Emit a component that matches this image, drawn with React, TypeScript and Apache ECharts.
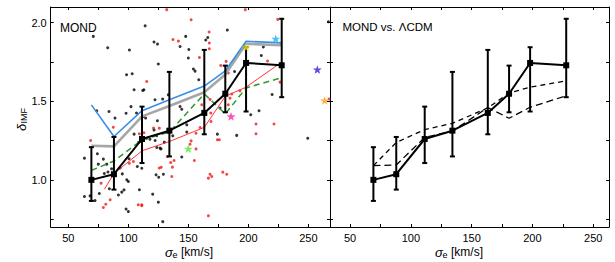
import React, { useEffect, useRef } from "react";
import * as echarts from "echarts";

// ---------- data ----------
const binX = [69.2, 88, 111.4, 134.2, 163.3, 180.8, 198.1, 227.8];
const binY = [1.0, 1.036, 1.26, 1.313, 1.426, 1.548, 1.744, 1.729];
const errLo = [0.866, 0.938, 1.107, 1.149, 1.29, 1.43, 1.435, 1.526];
const errHi = [1.208, 1.273, 1.466, 1.687, 1.827, 1.727, 1.844, 2.025];

const blueY = [1.477, 1.276, 1.44, 1.51, 1.597, 1.693, 1.882, 1.872];
const grayY = [1.217, 1.213, 1.404, 1.47, 1.557, 1.67, 1.866, 1.857];
const greenY = [1.06, 1.12, 1.255, 1.304, 1.547, 1.42, 1.585, 1.65];
const redLineX = [80, 88, 111.4, 134.2, 163.3, 180.8, 198.1, 227.8];
const redLineY = [0.94, 1.04, 1.185, 1.244, 1.334, 1.532, 1.59, 1.749];

const lcdmAY = [1.09, 1.095, 1.27, 1.31, 1.46, 1.392, 1.462, 1.535];
const lcdmBY = [1.09, 1.238, 1.32, 1.36, 1.458, 1.552, 1.59, 1.63];

const blackDots = [
  [70.8, 1.913], [82.8, 1.841], [100.9, 1.826], [98.5, 1.669], [103.2, 1.675], [104.8, 1.573],
  [112, 1.569], [114, 1.98], [73.7, 1.44], [83.9, 1.435], [88.9, 1.393], [98.1, 1.424],
  [102.2, 1.466], [106.8, 1.425], [121.4, 1.877], [124.3, 1.864], [147.8, 1.913], [143.1, 1.849],
  [150.4, 1.83], [150, 1.775], [166.2, 1.906], [164.5, 1.89], [182.5, 1.953], [125, 1.737],
  [154.2, 1.705], [155.6, 1.692], [158.7, 1.637], [113, 1.573], [133.3, 1.541], [128.6, 1.514],
  [122.2, 1.51], [143.1, 1.467], [144.5, 1.449], [176.4, 1.457], [112.5, 1.403], [114.4, 1.393],
  [212.5, 1.845], [210.8, 1.791], [188.5, 1.69], [219.8, 1.543], [202, 1.414], [208.9, 1.44],
  [266.7, 2.006], [190.3, 1.283], [249.5, 1.265], [124.2, 1.376], [121.4, 1.318], [115.3, 1.265],
  [122.3, 1.25], [126.4, 1.202], [123.7, 1.206], [148.7, 1.35], [148.7, 1.304], [144.5, 1.145],
  [174.2, 1.291], [123.1, 1.032], [125.3, 1.017], [129.2, 1.036], [120.3, 0.909], [125, 0.858],
  [128.7, 0.734], [63.4, 1.138], [74.2, 1.166], [79.2, 1.132], [93.1, 1.075], [95, 1.038],
  [98.7, 1.0], [100, 0.99], [96.4, 0.936], [94.5, 0.922], [100.6, 1.134], [107.5, 1.085],
  [111.2, 1.074], [109.8, 1.244], [63.4, 0.894], [68.1, 0.898], [72.2, 0.868], [75.8, 0.913],
  [84.2, 0.943], [91.7, 0.904], [98.1, 0.815], [100, 0.798], [104.8, 1.291], [108.4, 1.238],
  [118, 1.258], [123.6, 1.28], [127.2, 1.197], [109.2, 0.937], [82, 1.1], [86, 1.07],
  [137, 1.28], [130, 1.24], [75, 1.1], [80, 1.04], [83, 1.05],
];

const redDots = [
  [132, 2.083], [152.3, 2.019], [197.5, 2.083], [224.5, 2.021], [167.3, 1.941], [137.2, 1.893],
  [141.7, 1.883], [167.5, 1.871], [167.5, 1.834], [159.2, 1.779], [177, 1.728], [181.5, 1.754],
  [183.3, 1.68], [216, 1.756], [226.4, 1.622], [115.3, 1.626], [161.2, 1.478], [168.1, 1.512],
  [183.3, 1.478], [168.7, 1.425], [184.7, 1.52], [193, 1.567], [186.2, 1.546], [206.4, 1.355],
  [221.4, 1.355], [206.4, 1.293], [125.8, 1.329], [152.3, 1.248], [151.4, 1.227], [156.4, 1.197],
  [155, 1.123], [159.8, 1.333], [156.4, 1.297], [168.9, 1.371], [174.2, 1.255], [175.8, 1.255],
  [132.5, 1.148], [135.3, 1.11], [138.1, 1.123], [136.7, 1.081], [125.8, 1.075], [127.4, 1.08],
  [136.2, 1.021], [168.1, 1.036], [169.5, 1.021], [166.7, 1.011], [178.7, 1.049], [182, 1.036],
  [111.2, 0.836], [166.7, 0.771], [68.6, 1.25], [87.5, 1.335], [77.3, 0.979], [84.8, 0.873],
  [81.2, 0.845], [79.2, 0.824], [108.3, 0.841], [111.2, 0.841], [100.8, 1.106], [104.2, 1.117],
  [109.2, 1.293], [113, 1.3], [121, 1.33], [267.3, 1.515],
];

const starX = [198.1, 222.8, 257.5, 263.6, 185.6, 150];
const starY = [1.844, 1.898, 1.702, 1.505, 1.404, 1.198];
const starColors = ["#f7e01a", "#1bb0ee", "#3a1fd6", "#ff9c12", "#ff28a6", "#4fea2c"];

const xTicks = [50, 75, 100, 125, 150, 175, 200, 225, 250];
const xLabels = [50, 100, 150, 200, 250];
const yTicks = [0.75, 1.0, 1.25, 1.5, 1.75, 2.0];
const yLabels = [1.0, 1.5, 2.0];

// ---------- chart ----------
const FONT = "'Liberation Sans', Arial, Helvetica, sans-serif";
const STAR =
  "path://M0,-10 L2.35,-3.24 L9.51,-3.09 L3.8,1.24 L5.88,8.09 L0,4 L-5.88,8.09 L-3.8,1.24 L-9.51,-3.09 L-2.35,-3.24 Z";

function xAxisDef(grid: number, pos: "bottom" | "top", min: number, max: number, labels: boolean) {
  return {
    type: "value",
    gridIndex: grid,
    position: pos,
    min,
    max,
    axisLine: { show: true, onZero: false, lineStyle: { color: "#000", width: 1 } },
    axisTick: { show: true, inside: true, length: 3, customValues: xTicks, lineStyle: { color: "#000", width: 1 } },
    axisLabel: {
      show: labels,
      customValues: xLabels,
      margin: 5,
      color: "#000",
      fontSize: 11,
      fontFamily: FONT,
    },
    splitLine: { show: false },
  };
}

function yAxisDef(grid: number, pos: "left" | "right", labels: boolean, showLine = true) {
  return {
    type: "value",
    gridIndex: grid,
    position: pos,
    min: 0.7,
    max: 2.1,
    axisLine: { show: showLine, onZero: false, lineStyle: { color: "#000", width: 1 } },
    axisTick: { show: true, inside: true, length: 3, customValues: yTicks, lineStyle: { color: "#000", width: 1 } },
    axisLabel: {
      show: labels,
      customValues: yLabels,
      margin: 4,
      color: "#000",
      fontSize: 11,
      fontFamily: FONT,
      formatter: (v: number) => v.toFixed(1),
    },
    splitLine: { show: false },
  };
}

function errorSeries(xi: number, yi: number) {
  return {
    type: "custom",
    xAxisIndex: xi,
    yAxisIndex: yi,
    z: 5,
    encode: { x: 0, y: [1, 2] },
    data: binX.map((x, i) => [x, errLo[i], errHi[i]]),
    renderItem: (params: any, api: any) => {
      const x = api.value(0);
      const p1 = api.coord([x, api.value(1)]);
      const p2 = api.coord([x, api.value(2)]);
      const cw = 2.5;
      const st = { stroke: "#000", lineWidth: 2 };
      return {
        type: "group",
        children: [
          { type: "line", shape: { x1: p1[0], y1: p1[1], x2: p2[0], y2: p2[1] }, style: st },
          { type: "line", shape: { x1: p1[0] - cw, y1: p1[1], x2: p1[0] + cw, y2: p1[1] }, style: st },
          { type: "line", shape: { x1: p2[0] - cw, y1: p2[1], x2: p2[0] + cw, y2: p2[1] }, style: st },
        ],
      };
    },
  };
}

function meanSeries(xi: number, yi: number) {
  return {
    type: "line",
    xAxisIndex: xi,
    yAxisIndex: yi,
    z: 6,
    data: binX.map((x, i) => [x, binY[i]]),
    symbol: "rect",
    symbolSize: 6,
    showSymbol: true,
    itemStyle: { color: "#000" },
    lineStyle: { color: "#000", width: 2 },
  };
}

function simpleLine(xs: number[], ys: number[], color: string, width: number, type: any, z: number, xi = 0, yi = 0) {
  return {
    type: "line",
    xAxisIndex: xi,
    yAxisIndex: yi,
    z,
    data: xs.map((x, i) => [x, ys[i]]),
    showSymbol: false,
    symbol: "none",
    lineStyle: { color, width, type },
  };
}

function buildOption() {
  const subText = (x: number, y: number, main: string, sub: string, rest: string, rotate: boolean) => {
    return {
      type: "group",
      x,
      y,
      rotation: rotate ? Math.PI / 2 : 0,
      children: [
        { type: "text", x: 0, y: 0, style: { text: main, font: `italic 13px ${FONT}`, fill: "#000", textAlign: "left", textVerticalAlign: "middle" } },
        { type: "text", x: 7.5, y: 3, style: { text: sub, font: `9px ${FONT}`, fill: "#000", textAlign: "left", textVerticalAlign: "middle" } },
        ...(rest
          ? [{ type: "text", x: 16, y: 0, style: { text: rest, font: `12px ${FONT}`, fill: "#000", textAlign: "left", textVerticalAlign: "middle" } }]
          : []),
      ],
    };
  };

  return {
    animation: false,
    backgroundColor: "#fff",
    grid: [
      { left: 50.7, top: 7, width: 279.3, height: 220 },
      { left: 330, top: 7, width: 279, height: 220 },
    ],
    xAxis: [
      xAxisDef(0, "bottom", 35.3, 268.05, true),
      xAxisDef(0, "top", 35.3, 268.05, false),
      xAxisDef(1, "bottom", 33.5, 263, true),
      xAxisDef(1, "top", 33.5, 263, false),
    ],
    yAxis: [
      yAxisDef(0, "left", true),
      yAxisDef(0, "right", false, false),
      yAxisDef(1, "left", false),
      yAxisDef(1, "right", false),
    ],
    graphic: [
      { type: "text", x: 60, y: 28, style: { text: "MOND", font: `12px ${FONT}`, fill: "#000", textVerticalAlign: "middle" } },
      { type: "text", x: 342.5, y: 26.5, style: { text: "MOND vs. ΛCDM", font: `11.5px ${FONT}`, fill: "#000", textVerticalAlign: "middle" } },
      subText(165, 252, "σ", "e", "[km/s]", false),
      subText(435, 252, "σ", "e", "[km/s]", false),
      subText(21, 131, "δ", "IMF", "", true),
    ],
    series: [
      {
        type: "scatter",
        xAxisIndex: 0,
        yAxisIndex: 0,
        z: 1,
        symbolSize: 3,
        data: blackDots,
        itemStyle: { color: "#000" },
      },
      {
        type: "scatter",
        xAxisIndex: 0,
        yAxisIndex: 0,
        z: 1,
        symbolSize: 3,
        data: redDots,
        itemStyle: { color: "#ee1a1a" },
      },
      simpleLine(binX, grayY, "#a6a6a6", 2.6, "solid", 2),
      simpleLine(binX, blueY, "#3a8ee8", 1.6, "solid", 3),
      simpleLine(redLineX, redLineY, "#ff3535", 1, "solid", 3),
      simpleLine(binX, greenY, "#2c9a2c", 1.5, [6, 4], 3),
      errorSeries(0, 0),
      meanSeries(0, 0),
      {
        type: "scatter",
        xAxisIndex: 0,
        yAxisIndex: 0,
        z: 8,
        symbol: STAR,
        symbolSize: 9,
        symbolKeepAspect: true,
        clip: false,
        data: starX.map((x, i) => ({ value: [x, starY[i]], itemStyle: { color: starColors[i] } })),
      },
      simpleLine(binX, lcdmAY, "#000", 1.3, [7, 4], 3, 2, 2),
      simpleLine(binX, lcdmBY, "#000", 1.3, [5, 4], 3, 2, 2),
      errorSeries(2, 2),
      meanSeries(2, 2),
    ],
  };
}

export default function App() {
  const ref = useRef<HTMLDivElement>(null);
  useEffect(() => {
    if (!ref.current) return;
    const chart = echarts.init(ref.current, undefined, { renderer: "svg" });
    chart.setOption(buildOption() as any);
    return () => chart.dispose();
  }, []);
  return <div ref={ref} style={{ position: "absolute", left: 0, top: 0, width: 615, height: 262 }} />;
}
